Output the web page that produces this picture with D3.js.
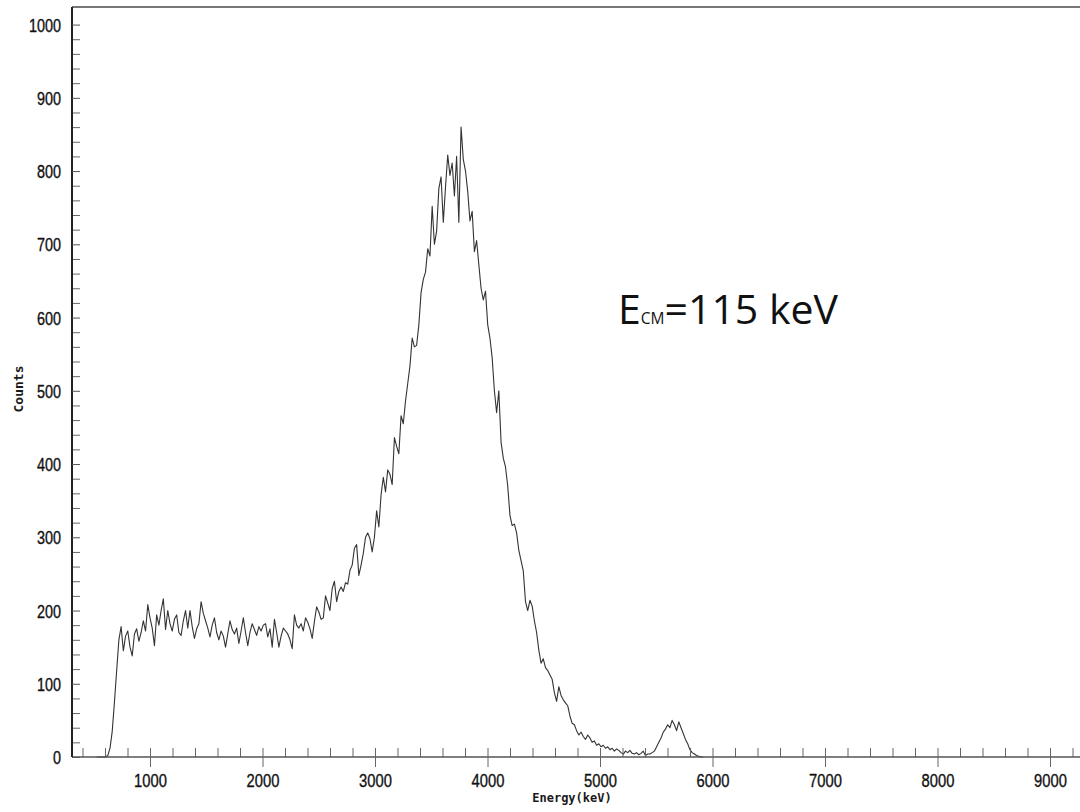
<!DOCTYPE html>
<html>
<head>
<meta charset="utf-8">
<script src="https://cdn.jsdelivr.net/npm/d3@7"></script>
<style>
  body { margin: 0; background: #fff; }
  svg { display: block; }
  .tick-label { font-family: "Liberation Sans", Arial, sans-serif; font-size: 18px; fill: #111; stroke: #111; stroke-width: 0.35px; }
  .axis-title { font-family: "DejaVu Sans Mono", monospace; font-weight: bold; fill: #1a1a1a; }
</style>
</head>
<body>
<div id="chart"></div>
<script>
  // ============= Data =============
  // spectrum bins: first bin energy and bin width (keV)
  const binStart = 526,
        binWidth = 19.75;

  // counts per bin
  const counts = [
    0, 0, 0, 0, 0, 2, 12, 35, 75, 118, 160,
    178, 145, 165, 172, 150, 138, 168, 175, 158, 170,
    186, 172, 208, 190, 176, 152, 194, 180, 200, 216,
    174, 200, 182, 172, 188, 194, 170, 166, 186, 200,
    176, 200, 178, 162, 175, 182, 212, 196, 186, 176,
    164, 180, 190, 170, 160, 172, 165, 150, 168, 186,
    174, 168, 176, 155, 172, 190, 170, 152, 170, 182,
    174, 166, 178, 172, 180, 182, 164, 175, 150, 188,
    170, 150, 165, 176, 172, 168, 160, 148, 194, 180,
    176, 182, 172, 190, 184, 175, 162, 185, 205, 198,
    188, 190, 220, 210, 200, 230, 240, 212, 226, 232,
    226, 238, 236, 255, 262, 285, 290, 248, 262,
    278, 300, 306, 298, 280, 300, 336, 314, 358, 382,
    362, 392, 386, 372, 436, 424, 414, 466, 455, 486,
    510, 534, 572, 560, 562, 590, 634, 652, 662, 694,
    684, 752, 700, 718, 776, 792, 730, 778, 822, 794,
    811, 766, 820, 730, 860, 816, 800, 772, 732,
    745, 690, 705, 672, 640, 624, 636, 590, 572, 545,
    500, 470, 500, 430, 408, 396, 370, 330, 316, 318,
    306, 282, 268, 254, 212, 200, 214, 206, 186, 170,
    146, 128, 134, 122, 118, 112, 106, 88, 76, 96,
    84, 78, 74, 70, 56, 46, 44, 36, 30, 34,
    28, 24, 30, 26, 20, 22, 16, 18, 14, 16,
    12, 14, 10, 12, 8, 11, 9, 6, 4, 8,
    6, 9, 5, 4, 6, 3, 5, 8, 2, 4,
    4, 6, 8, 14, 20, 26, 34, 38, 44, 40,
    50, 44, 36, 48, 40, 32, 24, 18, 10, 6,
    4, 2, 1, 0, 0
  ];

  const xMajorTicks = [1000, 2000, 3000, 4000, 5000, 6000, 7000, 8000, 9000];
  const xMinorTicks = d3.range(400, 9400, 200).filter(v => v % 1000 !== 0);
  const yMajorTicks = [0, 100, 200, 300, 400, 500, 600, 700, 800, 900, 1000];
  const yMinorTicks = d3.range(20, 1000, 20).filter(v => v % 100 !== 0);

  const spectrum = counts.map((c, i) => ({energy: binStart + i*binWidth, count: c}));

  // ============= Layout =============
  const width = 1080,
        height = 812,
        plotLeft = 72,
        plotTop = 7,
        plotBottom = 757;

  const svg = d3.select('#chart')
    .append('svg')
    .attr('width', width)
    .attr('height', height);

  const x = d3.scaleLinear()
    .domain([300, 9300])
    .range([71.25, 1083.75]);

  const y = d3.scaleLinear()
    .domain([0, 1024])
    .range([plotBottom, plotTop]);

  // top frame line
  svg.append('line')
    .attr('x1', plotLeft).attr('x2', width)
    .attr('y1', plotTop).attr('y2', plotTop)
    .attr('stroke', '#777')
    .attr('stroke-width', 2);

  // ============= Spectrum =============
  const line = d3.line()
    .x(d => x(d.energy))
    .y(d => y(d.count));

  svg.append('path')
    .datum(spectrum)
    .attr('fill', 'none')
    .attr('stroke', '#333')
    .attr('stroke-width', 1.1)
    .attr('stroke-linejoin', 'round')
    .attr('d', line);

  // ============= X axis =============
  const xMinor = svg.append('g')
    .attr('transform', 'translate(0,' + plotBottom + ')')
    .call(d3.axisBottom(x).tickValues(xMinorTicks).tickSize(-9).tickSizeOuter(0).tickFormat(''));
  xMinor.select('.domain').remove();
  xMinor.selectAll('.tick line').attr('stroke', '#666');

  const xMajor = svg.append('g')
    .attr('transform', 'translate(0,' + plotBottom + ')')
    .call(d3.axisBottom(x).tickValues(xMajorTicks).tickSize(10).tickSizeOuter(0).tickFormat(d3.format('d')));
  xMajor.select('.domain')
    .attr('d', 'M' + plotLeft + ',0H' + width)
    .attr('stroke', '#555')
    .attr('stroke-width', 1.6);
  xMajor.selectAll('.tick line').attr('y1', -9).attr('stroke', '#666');
  // narrow digits like the original program's font
  xMajor.selectAll('.tick text')
    .attr('class', 'tick-label')
    .attr('y', 30)
    .attr('dy', null)
    .attr('textLength', d => String(d).length*8.2)
    .attr('lengthAdjust', 'spacingAndGlyphs');

  // ============= Y axis =============
  const yMinor = svg.append('g')
    .attr('transform', 'translate(' + plotLeft + ',0)')
    .call(d3.axisLeft(y).tickValues(yMinorTicks).tickSize(-8).tickSizeOuter(0).tickFormat(''));
  yMinor.select('.domain').remove();
  yMinor.selectAll('.tick line').attr('stroke', '#666');

  const yMajor = svg.append('g')
    .attr('transform', 'translate(' + plotLeft + ',0)')
    .call(d3.axisLeft(y).tickValues(yMajorTicks).tickSize(8).tickSizeOuter(0).tickFormat(d3.format('d')));
  yMajor.select('.domain')
    .attr('d', 'M0,' + plotTop + 'V' + plotBottom)
    .attr('stroke', '#222')
    .attr('stroke-width', 2);
  yMajor.selectAll('.tick line').attr('x2', 8).attr('stroke', '#555');
  yMajor.selectAll('.tick text')
    .attr('class', 'tick-label')
    .attr('dy', '0.36em')
    .attr('textLength', d => String(d).length*8)
    .attr('lengthAdjust', 'spacingAndGlyphs');

  // ============= Titles =============
  svg.append('text')
    .attr('class', 'axis-title')
    .attr('x', 572)
    .attr('y', 802)
    .attr('text-anchor', 'middle')
    .style('font-size', '12px')
    .text('Energy(keV)');

  svg.append('text')
    .attr('class', 'axis-title')
    .attr('transform', 'translate(23,389) rotate(-90)')
    .attr('text-anchor', 'middle')
    .style('font-size', '13px')
    .text('Counts');

  // annotation
  const note = svg.append('text')
    .attr('x', 618)
    .attr('y', 324)
    .style('font-family', '"Open Sans", sans-serif')
    .style('font-size', '41px')
    .attr('fill', '#111');
  note.append('tspan').text('E');
  note.append('tspan').style('font-size', '15.5px').text('CM');
  note.append('tspan').text('=115 keV');
</script>
</body>
</html>
